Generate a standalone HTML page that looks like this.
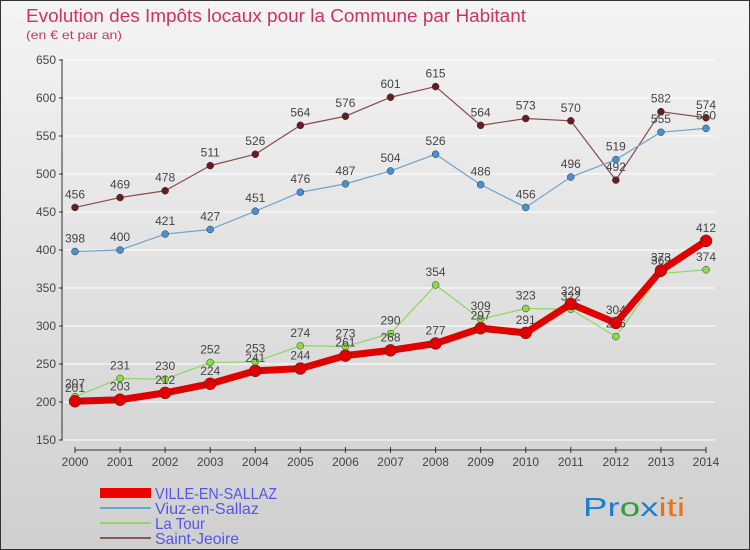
<!DOCTYPE html>
<html><head><meta charset="utf-8"><style>
body{margin:0;width:750px;height:550px;overflow:hidden;font-family:"Liberation Sans",sans-serif}
svg{display:block}
</style></head><body>
<svg id="c" width="750" height="550" xmlns="http://www.w3.org/2000/svg">
<defs><linearGradient id="bg" x1="0" y1="0" x2="0" y2="1"><stop offset="0" stop-color="#f4f4f4"/><stop offset="1" stop-color="#cfcfcf"/></linearGradient></defs>
<rect x="0.5" y="0.5" width="749" height="549" fill="url(#bg)" stroke="#333"/>
<text x="26" y="22" font-size="18" fill="#d0306a" textLength="500" lengthAdjust="spacingAndGlyphs">Evolution des Impôts locaux pour la Commune par Habitant</text>
<text x="26" y="39" font-size="12" fill="#d0306a" textLength="96" lengthAdjust="spacingAndGlyphs">(en € et par an)</text>
<g id="grid"></g><g id="axes"></g><g id="series"></g>
<g font-size="16" fill="#5555ee">
<rect x="100" y="488" width="51" height="10" fill="#e00"/>
<text x="155" y="499" textLength="122" lengthAdjust="spacingAndGlyphs">VILLE-EN-SALLAZ</text>
<line x1="100" y1="508" x2="151" y2="508" stroke="#6ea3cc" stroke-width="2"/>
<text x="155" y="514" textLength="104" lengthAdjust="spacingAndGlyphs">Viuz-en-Sallaz</text>
<line x1="100" y1="523" x2="151" y2="523" stroke="#8cd860" stroke-width="2"/>
<text x="155" y="529" textLength="50" lengthAdjust="spacingAndGlyphs">La Tour</text>
<line x1="100" y1="538" x2="151" y2="538" stroke="#8a5a5a" stroke-width="2"/>
<text x="155" y="544" textLength="84" lengthAdjust="spacingAndGlyphs">Saint-Jeoire</text>
</g>
<text x="583" y="516" font-size="26" textLength="102" lengthAdjust="spacingAndGlyphs"><tspan fill="#1a7fd0">Pr</tspan><tspan fill="#2ba040">o</tspan><tspan fill="#1a7fd0">x</tspan><tspan fill="#f07010">iti</tspan></text>
</svg>
<script>
const years=[2000,2001,2002,2003,2004,2005,2006,2007,2008,2009,2010,2011,2012,2013,2014];
const yTicks=[150,200,250,300,350,400,450,500,550,600,650];
const ville=[201,203,212,224,241,244,261,268,277,297,291,329,304,373,412];
const viuz=[398,400,421,427,451,476,487,504,526,486,456,496,519,555,560];
const latour=[207,231,230,252,253,274,273,290,354,309,323,322,286,369,374];
const stjeoire=[456,469,478,511,526,564,576,601,615,564,573,570,492,582,574];
const NS="http://www.w3.org/2000/svg";
const X=i=>75+i*(631/14);
const Y=v=>440-(v-150)*0.76;
function mk(t,a,p){const e=document.createElementNS(NS,t);for(const k in a)e.setAttribute(k,a[k]);p.appendChild(e);return e;}
const grid=document.getElementById('grid'),axes=document.getElementById('axes'),ser=document.getElementById('series');
yTicks.forEach(v=>{
 const l=mk('line',{x1:62,x2:715,y1:Y(v),y2:Y(v),stroke:'#fff','stroke-width':1},grid);
 
 
 const t=mk('text',{x:56,y:Y(v)+4,'text-anchor':'end','font-size':12,fill:'#444'},axes);
 t.textContent=v;
 
 
 mk('line',{x1:59,x2:63,y1:Y(v),y2:Y(v),stroke:'#333'},axes);
});
const ya=mk('line',{x1:62,x2:62,y1:Y(650),y2:Y(150),stroke:'#333'},axes);


const xa=mk('line',{x1:75,x2:706,y1:450,y2:450,stroke:'#333'},axes);


years.forEach((y,i)=>{
 mk('line',{x1:X(i),x2:X(i),y1:447,y2:453,stroke:'#333'},axes);
 const t=mk('text',{x:X(i),y:466,'text-anchor':'middle','font-size':12,fill:'#444'},axes);
 t.textContent=y;
 
 
});
function series(name,d,color,w,dot,dotc,lblc){
 const g=mk('g',{},ser);
 
 
 const p=mk('polyline',{points:d.map((v,i)=>X(i)+','+Y(v)).join(' '),fill:'none',stroke:color,'stroke-width':w,'stroke-linejoin':'round'},g);
 
 
 d.forEach((v,i)=>{
  const c=mk('circle',{cx:X(i),cy:Y(v),r:dot,fill:dotc,stroke:'#333','stroke-width':0.5},g);
  
  
  const t=mk('text',{x:X(i),y:Y(v)-9,'text-anchor':'middle','font-size':12,fill:lblc},g);
  t.textContent=v;
  
  
 });
}
series('saint-jeoire',stjeoire,'#8a4a4a',1.2,3.5,'#6a1a22','#444');
series('viuz',viuz,'#6ea3cc',1.2,3.5,'#4a90d0','#444');
series('latour',latour,'#8cd860',1.2,3.5,'#88dd44','#444');
series('ville',ville,'#e00000',7,6,'#e00000','#444');
</script>
</body></html>
